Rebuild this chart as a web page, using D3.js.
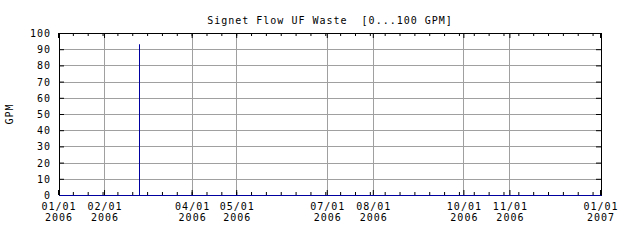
<!DOCTYPE html>
<html>
    <head>
        <meta charset="utf-8">
        <title>Signet Flow UF Waste</title>
        <style>
            html, body {margin: 0px;padding: 0px;overflow: hidden;background: #ffffff;}
            text {font-family: "DejaVu Sans Mono", monospace;font-size: 10px;letter-spacing: 1px;fill: #000000;white-space: pre;}
        </style>
    </head>
    <body>
        <div id="chart"></div>
        <script src="https://cdn.jsdelivr.net/npm/d3@7"></script>
        <script type="text/javascript">
        // Chart values.
        var title = "Signet Flow UF Waste  [0...100 GPM]";
        var yLabel = "GPM";
        var dates = ["2006-01-01", "2006-02-24", "2006-02-24", "2006-02-24", "2007-01-01"];
        var flows = [0, 0, 93.5, 0, 0];
        var yTicks = [0, 10, 20, 30, 40, 50, 60, 70, 80, 90, 100];
        var xLabelDates = ["2006-01-01", "2006-02-01", "2006-04-01", "2006-05-01", "2006-07-01",
                           "2006-08-01", "2006-10-01", "2006-11-01", "2007-01-01"];

        var width = 640, height = 240;
        var margin = {top: 33, right: 39, bottom: 45, left: 59};
        var w = width - margin.left - margin.right,
            h = height - margin.top - margin.bottom;

        var parse = d3.utcParse("%Y-%m-%d");
        var data = dates.map(function(d, i) { return {date: parse(d), value: flows[i]}; });
        var labelDates = xLabelDates.map(parse);
        var start = labelDates[0], end = labelDates[labelDates.length - 1];

        var x = d3.scaleUtc().domain([start, end]).range([0, w]);
        var y = d3.scaleLinear().domain([0, 100]).range([h, 0]);

        var svg = d3.select("#chart").append("svg")
            .attr("width", width)
            .attr("height", height);

        var g = svg.append("g")
            .attr("transform", "translate(" + margin.left + "," + margin.top + ")");

        // grid
        g.append("g").selectAll("line")
            .data(yTicks.slice(1, -1))
          .enter().append("line")
            .attr("x1", 0).attr("x2", w)
            .attr("y1", function(d) { return Math.round(y(d)) + 0.5; })
            .attr("y2", function(d) { return Math.round(y(d)) + 0.5; })
            .attr("stroke", "#a0a0a0");

        g.append("g").selectAll("line")
            .data(labelDates.slice(1, -1))
          .enter().append("line")
            .attr("x1", function(d) { return Math.round(x(d)) - 0.5; })
            .attr("x2", function(d) { return Math.round(x(d)) - 0.5; })
            .attr("y1", 0).attr("y2", h)
            .attr("stroke", "#a0a0a0");

        // minor ticks every 10 days, top and bottom
        var minor = d3.utcDay.range(start, end, 10);
        function styleAxis(sel) {
            sel.select(".domain").remove();
            sel.selectAll(".tick line").attr("stroke", "#000000");
            sel.attr("font-family", null).attr("font-size", null);
        }
        g.append("g")
            .attr("transform", "translate(-1," + h + ")")
            .call(d3.axisBottom(x).tickValues(minor).tickSize(-3).tickFormat(""))
            .call(styleAxis);
        g.append("g")
            .attr("transform", "translate(-1,0)")
            .call(d3.axisTop(x).tickValues(minor).tickSize(-3).tickFormat(""))
            .call(styleAxis);
        g.append("g")
            .attr("transform", "translate(-1,0)")
            .call(d3.axisTop(x).tickValues(labelDates).tickSize(-5).tickFormat(""))
            .call(styleAxis);

        // bottom labels
        var fmtDay = d3.utcFormat("%m/%d"), fmtYear = d3.utcFormat("%Y");
        var xAxis = g.append("g")
            .attr("transform", "translate(-1," + h + ")")
            .call(d3.axisBottom(x).tickValues(labelDates).tickSize(-5).tickPadding(0).tickFormat(""))
            .call(styleAxis);
        xAxis.selectAll(".tick text").each(function(d) {
            var t = d3.select(this).attr("y", null).attr("dy", null);
            t.append("tspan").attr("x", 0.5).attr("y", 15).text(fmtDay(d));
            t.append("tspan").attr("x", 0.5).attr("y", 26).text(fmtYear(d));
        });

        // y axes
        g.append("g")
            .call(d3.axisLeft(y).tickValues(yTicks).tickSize(-5).tickPadding(8))
            .call(styleAxis)
            .selectAll(".tick text").attr("dy", "0.35em");
        g.append("g")
            .attr("transform", "translate(" + w + ",0)")
            .call(d3.axisRight(y).tickValues(yTicks).tickSize(-5).tickFormat(""))
            .call(styleAxis);

        // frame
        g.append("rect")
            .attr("x", 0.5).attr("y", 0.5)
            .attr("width", w).attr("height", h)
            .attr("fill", "none")
            .attr("stroke", "#000000");

        // data
        var line = d3.line()
            .x(function(d) { return Math.round(x(d.date)) + 0.5; })
            .y(function(d) { return Math.round(y(d.value)) + 0.5; });
        g.append("path")
            .datum(data)
            .attr("d", line)
            .attr("fill", "none")
            .attr("stroke", "#0000a0");

        // titles
        svg.append("text")
            .attr("x", margin.left + w / 2)
            .attr("y", 24)
            .attr("text-anchor", "middle")
            .text(title);

        svg.append("text")
            .attr("transform", "translate(13," + (margin.top + h / 2) + ") rotate(-90)")
            .attr("text-anchor", "middle")
            .text(yLabel);
        </script>
    </body>
</html>
